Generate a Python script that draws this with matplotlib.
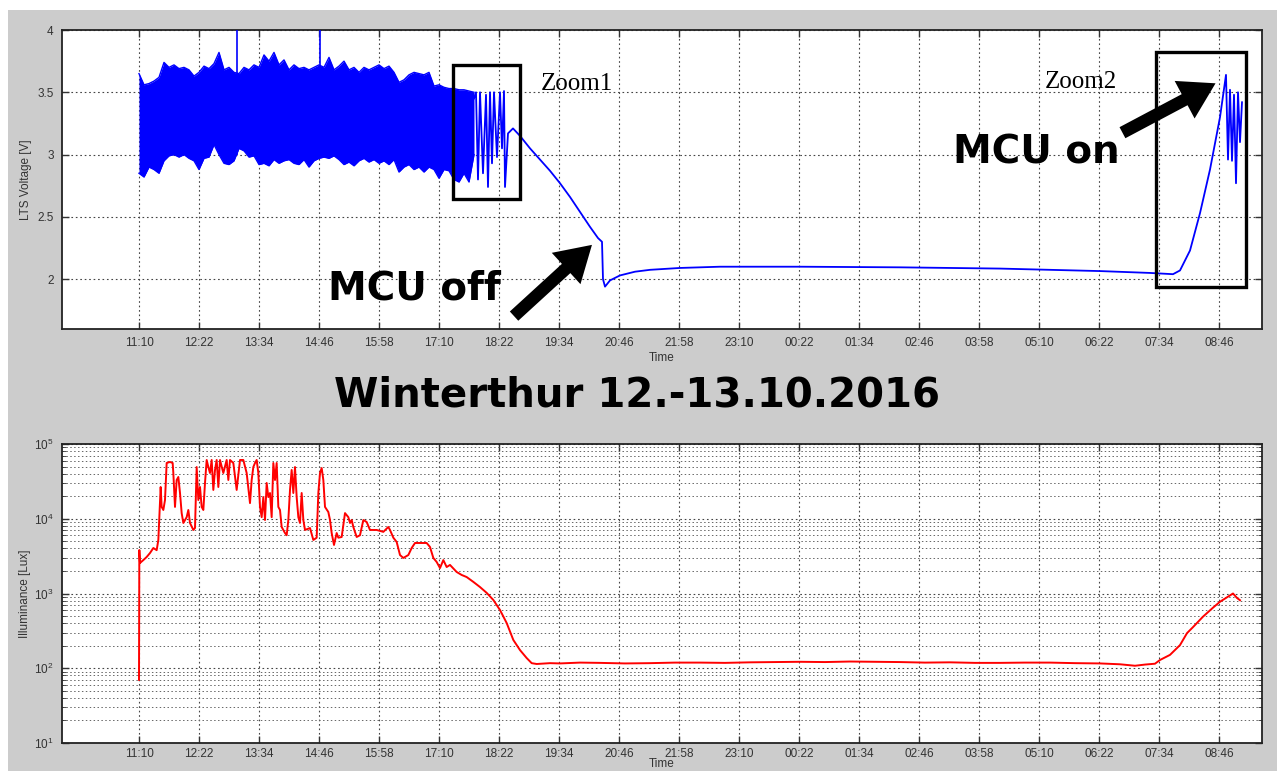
import matplotlib
matplotlib.use("Agg")
import matplotlib.pyplot as plt
from matplotlib.patches import Rectangle, FancyArrowPatch
from matplotlib.ticker import LogLocator, NullFormatter

# ---------------- data (time in minutes after 11:10 on 12.10.2016) ----------------
tick_labels = ['11:10', '12:22', '13:34', '14:46', '15:58', '17:10', '18:22', '19:34',
               '20:46', '21:58', '23:10', '00:22', '01:34', '02:46', '03:58', '05:10',
               '06:22', '07:34', '08:46']
tick_minutes = [0, 72, 144, 216, 288, 360, 432, 504, 576, 648, 720, 792, 864, 936,
                1008, 1080, 1152, 1224, 1296]

# LTS voltage: dense noisy phase as envelope (upper / lower peaks)
band_t = [0, 6, 12, 18, 24, 30, 36, 42, 48, 54, 60, 66, 72, 78, 84, 90, 96, 102, 108, 114,
          120, 126, 132, 138, 144, 150, 156, 162, 168, 174, 180, 186, 192, 198, 204, 210,
          216, 222, 228, 234, 240, 246, 252, 258, 264, 270, 276, 282, 288, 294, 300, 306,
          312, 318, 324, 330, 336, 342, 348, 354, 360, 366, 372, 378, 384, 390, 396, 402]
band_upper = [3.65, 3.56, 3.57, 3.59, 3.62, 3.74, 3.70, 3.72, 3.69, 3.70, 3.68, 3.63, 3.66,
              3.71, 3.69, 3.73, 3.82, 3.68, 3.70, 3.66, 3.65, 3.70, 3.68, 3.72, 3.70, 3.80,
              3.75, 3.82, 3.72, 3.76, 3.68, 3.72, 3.69, 3.70, 3.68, 3.70, 3.72, 3.70, 3.78,
              3.68, 3.71, 3.75, 3.68, 3.70, 3.66, 3.70, 3.68, 3.70, 3.72, 3.69, 3.71, 3.66,
              3.58, 3.60, 3.64, 3.66, 3.65, 3.64, 3.66, 3.55, 3.56, 3.54, 3.53, 3.53, 3.52,
              3.52, 3.51, 3.50]
band_lower = [2.85, 2.82, 2.90, 2.88, 2.85, 2.95, 2.99, 3.00, 2.98, 3.00, 2.97, 2.95, 2.88,
              2.97, 2.98, 3.08, 3.00, 2.93, 2.92, 2.95, 3.05, 3.03, 2.98, 2.99, 2.92, 2.93,
              2.91, 2.96, 2.93, 2.95, 2.96, 2.93, 2.92, 2.96, 2.90, 2.95, 2.97, 2.98, 2.97,
              2.99, 2.96, 2.92, 2.94, 2.91, 2.95, 2.97, 2.94, 2.96, 2.93, 2.95, 2.92, 2.96,
              2.86, 2.90, 2.92, 2.88, 2.90, 2.86, 2.90, 2.88, 2.81, 2.88, 2.87, 2.80, 2.78,
              2.85, 2.78, 3.00]
spike_t = [117.6, 217.2]
spike_low = [3.00, 3.10]
spike_high = [4.00, 4.00]

# LTS voltage: discharge after MCU off and recharge / MCU on
volt_t = [402, 404.4, 406.8, 409.2, 412.8, 416.4, 418.8, 421.2, 423.6, 426, 429.6, 433.2,
          435.6, 438, 439.2, 442.8, 448.8, 457.2, 469.2, 481.2, 493.2, 505.2, 517.2, 529.2,
          541.2, 550.8, 555.6, 556.8, 559.2, 565.2, 577.2, 595.2, 613.2, 649.2, 697.2,
          793.2, 913.2, 1033.2, 1153.2, 1213.2, 1240.8, 1249.2, 1261.2, 1273.2, 1285.2,
          1297.2, 1304.4, 1306.8, 1309.2, 1311.6, 1314, 1316.4, 1318.8, 1321.2, 1323.6]
volt_v = [3.45, 3.50, 2.80, 3.50, 2.85, 3.48, 2.74, 3.50, 2.93, 3.50, 2.98, 3.50,
          3.05, 3.51, 2.74, 3.17, 3.21, 3.15, 3.05, 2.96, 2.87, 2.77, 2.66, 2.54,
          2.42, 2.33, 2.30, 2.00, 1.94, 1.99, 2.03, 2.06, 2.075, 2.09, 2.10,
          2.10, 2.095, 2.085, 2.065, 2.05, 2.04, 2.07, 2.23, 2.53, 2.88,
          3.30, 3.64, 2.96, 3.52, 2.95, 3.48, 2.77, 3.50, 3.10, 3.42]

# Illuminance [Lux]
lux_t = [0, 0.4, 1.2, 5.2, 9.2, 13.2, 17.2, 21.2, 23.2, 24.4, 26, 27.2, 29.2, 31.2, 33.2,
         37.2, 40.4, 41.2, 43.2, 45.2, 47.2, 49.2, 51.2, 53.2, 57.2, 59.2, 61.2, 65.2,
         67.2, 69.2, 71.2, 73.2, 75.2, 77.2, 79.2, 81.2, 83.2, 85.2, 87.2, 89.2, 91.2,
         93.2, 95.2, 97.2, 101.2, 105.2, 107.2, 109.2, 113.2, 117.2, 121.2, 125.2, 129.2,
         133.2, 135.2, 137.2, 139.2, 141.2, 143.2, 145.2, 147.2, 149.2, 151.2, 153.2,
         155.2, 157.2, 159.2, 161.2, 163.2, 165.2, 167.2, 169.2, 171.2, 173.2, 175.2,
         177.2, 179.2, 181.2, 183.2, 185.2, 187.2, 189.2, 191.2, 193.2, 195.2, 197.2,
         199.2, 205.2, 209.2, 213.2, 215.2, 217.2, 219.2, 221.2, 223.2, 227.2, 229.2,
         231.2, 234, 237.2, 239.2, 243.2, 247.2, 251.2, 253.2, 255.2, 257.2, 261.2,
         265.2, 269.2, 273.2, 277.2, 285.2, 293.2, 299.2, 301.2, 305.2, 309.2, 313.2,
         317.2, 323.2, 327.2, 331.2, 337.2, 345.2, 349.2, 353.2, 357.2, 361.2, 365.2,
         369.2, 373.2, 381.2, 387.2, 393.2, 401.2, 409.2, 417.2, 425.2, 433.2, 441.2,
         449.2, 457.2, 465.2, 471.2, 477.2, 493.2, 505.2, 529.2, 553.2, 583.2, 613.2,
         643.2, 673.2, 703.2, 733.2, 763.2, 793.2, 823.2, 853.2, 883.2, 913.2, 943.2,
         973.2, 1003.2, 1033.2, 1063.2, 1093.2, 1123.2, 1153.2, 1177.2, 1195.2, 1207.2,
         1219.2, 1225.2, 1237.2, 1249.2, 1257.6, 1264.8, 1276.8, 1288.8, 1297.2, 1305.6,
         1312.8, 1317.6, 1321.2]
lux_v = [70, 3820, 2560, 2800, 3080, 3480, 4060, 3800, 5200, 10500, 26600, 14400, 13100,
         17800, 55700, 57500, 55700, 40900, 14400, 33000, 36200, 22100, 11900, 8780, 10500,
         13100, 8780, 7080, 7520, 49200, 17800, 26600, 14400, 13100, 30100, 61100, 49200,
         40900, 61100, 24300, 44900, 61100, 26600, 61100, 40900, 61100, 33000, 61100, 55700,
         24300, 61100, 61100, 40900, 16200, 33000, 49200, 55700, 61100, 40900, 14400, 10500,
         19500, 9620, 30100, 19500, 22100, 10500, 55700, 33000, 55700, 14400, 13100, 7760,
         7080, 6440, 6020, 9620, 24300, 44900, 22100, 49200, 19500, 10500, 8780, 22100,
         9620, 7080, 7520, 5200, 5580, 22100, 40900, 47700, 33000, 14400, 12300, 9620,
         6440, 4460, 6440, 5580, 5700, 11900, 10500, 8780, 9620, 7760, 5700, 6020, 9620,
         9050, 7080, 7080, 6680, 7760, 7080, 5580, 4890, 3270, 2990, 3270, 4060, 4740, 4740,
         4740, 4190, 2990, 2640, 2190, 2800, 2260, 2410, 1940, 1770, 1660, 1430, 1220, 1020,
         819, 601, 403, 239, 175, 137, 117, 114, 117, 116, 119, 118, 116, 117, 119, 119,
         118, 120, 121, 122, 121, 123, 122, 121, 119, 120, 118, 118, 119, 119, 117, 116,
         113, 108, 112, 115, 129, 151, 204, 295, 355, 490, 646, 776, 891, 1000, 871, 813]

title_text = 'Winterthur 12.-13.10.2016'

# ---------------- figure ----------------
W, H = 1277, 771
fig = plt.figure(figsize=(W / 100, H / 100), dpi=100)
fig.patch.set_facecolor('white')
fig.patches.append(Rectangle((8 / W, 0), 1 - 8 / W, 1 - 10 / H, transform=fig.transFigure,
                             facecolor='#cccccc', edgecolor='none', zorder=-10))

tick_font = dict(family='Liberation Sans', size=8.5, color='#333333')


def style_axes(ax, xlabelpad, xpad):
    ax.set_facecolor('white')
    ax.set_xlim(-92.4, 1347.6)
    ax.set_xticks(tick_minutes)
    ax.set_xticklabels(tick_labels, **tick_font)
    ax.grid(True, which='major', linestyle=(0, (1.5, 2.5)), color='#444444', lw=0.8)
    ax.tick_params(direction='in', top=True, right=True, length=5, width=1, colors='#333333',
                   labelsize=8.5, pad=6)
    ax.tick_params(axis='x', pad=xpad)
    for s in ax.spines.values():
        s.set_linewidth(1.3)
        s.set_color('#222222')
    for lbl in ax.get_yticklabels():
        lbl.set_fontfamily('Liberation Sans')
    ax.set_xlabel('Time', fontfamily='Liberation Sans', fontsize=8.5, color='#333333',
                  labelpad=xlabelpad)


# ---- top axes: LTS voltage ----
ax1 = fig.add_axes([62 / W, 1 - 329 / H, 1200 / W, 299 / H])
ax1.set_ylim(1.6, 4.0)
ax1.set_yticks([2, 2.5, 3, 3.5, 4])
ax1.set_yticklabels(['2', '2.5', '3', '3.5', '4'], **tick_font)
style_axes(ax1, 2, 6)
ax1.set_ylabel('LTS Voltage [V]', fontfamily='Liberation Sans', fontsize=8.5,
               color='#333333', labelpad=4)

ax1.fill_between(band_t, band_lower, band_upper, color='#0000ff', lw=0, zorder=3)
ax1.plot(band_t, band_upper, color='#0000ff', lw=1.0, zorder=3)
ax1.plot(band_t, band_lower, color='#0000ff', lw=1.0, zorder=3)
ax1.vlines(spike_t, spike_low, spike_high, color='#0000ff', lw=1.2, zorder=3)
ax1.plot(volt_t, volt_v, color='#0000ff', lw=1.3, zorder=3)

# zoom boxes
ax1.add_patch(Rectangle((376.8, 2.644), 80.4, 3.719 - 2.644, fill=False, lw=2.4,
                        edgecolor='black', zorder=5))
ax1.add_patch(Rectangle((1220.4, 1.937), 108.0, 3.823 - 1.937, fill=False, lw=2.4,
                        edgecolor='black', zorder=5, clip_on=False))
ax1.text(541 / W, 1 - 84 / H, 'Zoom1', transform=fig.transFigure, fontsize=18,
         family='Liberation Serif', va='center', ha='left', zorder=6)
ax1.text(1045 / W, 1 - 82 / H, 'Zoom2', transform=fig.transFigure, fontsize=18,
         family='Liberation Serif', va='center', ha='left', zorder=6)

# annotations
fig.text(414 / W, 1 - 288 / H, 'MCU off', fontsize=28, fontweight='bold',
         family='DejaVu Sans', ha='center', va='center', zorder=10)
fig.text(1036 / W, 1 - 153 / H, 'MCU on', fontsize=28, fontweight='bold',
         family='DejaVu Sans', ha='center', va='center', zorder=10)
for (x0, y0), (x1, y1) in [((512, 318), (594, 243)), ((1120, 134), (1218, 82))]:
    arr = FancyArrowPatch((x0 / W, 1 - y0 / H), (x1 / W, 1 - y1 / H),
                          transform=fig.transFigure,
                          arrowstyle='simple,head_width=3.4,head_length=2.8,tail_width=1.0',
                          mutation_scale=9, color='black', lw=0, zorder=10)
    fig.patches.append(arr)

# title
fig.text(636.5 / W, 1 - 396 / H, title_text, fontsize=29, fontweight='bold',
         family='DejaVu Sans', ha='center', va='center')

# ---- bottom axes: illuminance ----
ax2 = fig.add_axes([62 / W, 1 - 743 / H, 1200 / W, 299 / H])
ax2.set_yscale('log')
ax2.set_ylim(10, 1e5)
ax2.yaxis.set_major_locator(LogLocator(base=10, numticks=10))
ax2.yaxis.set_minor_locator(LogLocator(base=10, subs=range(2, 10), numticks=20))
ax2.yaxis.set_minor_formatter(NullFormatter())
style_axes(ax2, -1, 3.5)
ax2.grid(True, which='minor', axis='y', linestyle=(0, (1.5, 2.5)), color='#666666', lw=0.7)
ax2.tick_params(which='minor', direction='in', right=True, length=3, colors='#333333')
ax2.set_ylabel('Illuminance [Lux]', fontfamily='Liberation Sans', fontsize=8.5,
               color='#333333', labelpad=2)
ax2.plot(lux_t, lux_v, color='#ff0000', lw=1.4, zorder=3)

plt.rcParams['mathtext.fontset'] = 'custom'
plt.rcParams['mathtext.rm'] = 'Liberation Sans'
for lbl in ax2.get_yticklabels():
    lbl.set_fontfamily('Liberation Sans')
    lbl.set_color('#333333')

fig.savefig('out.png', dpi=100, facecolor=fig.get_facecolor())
